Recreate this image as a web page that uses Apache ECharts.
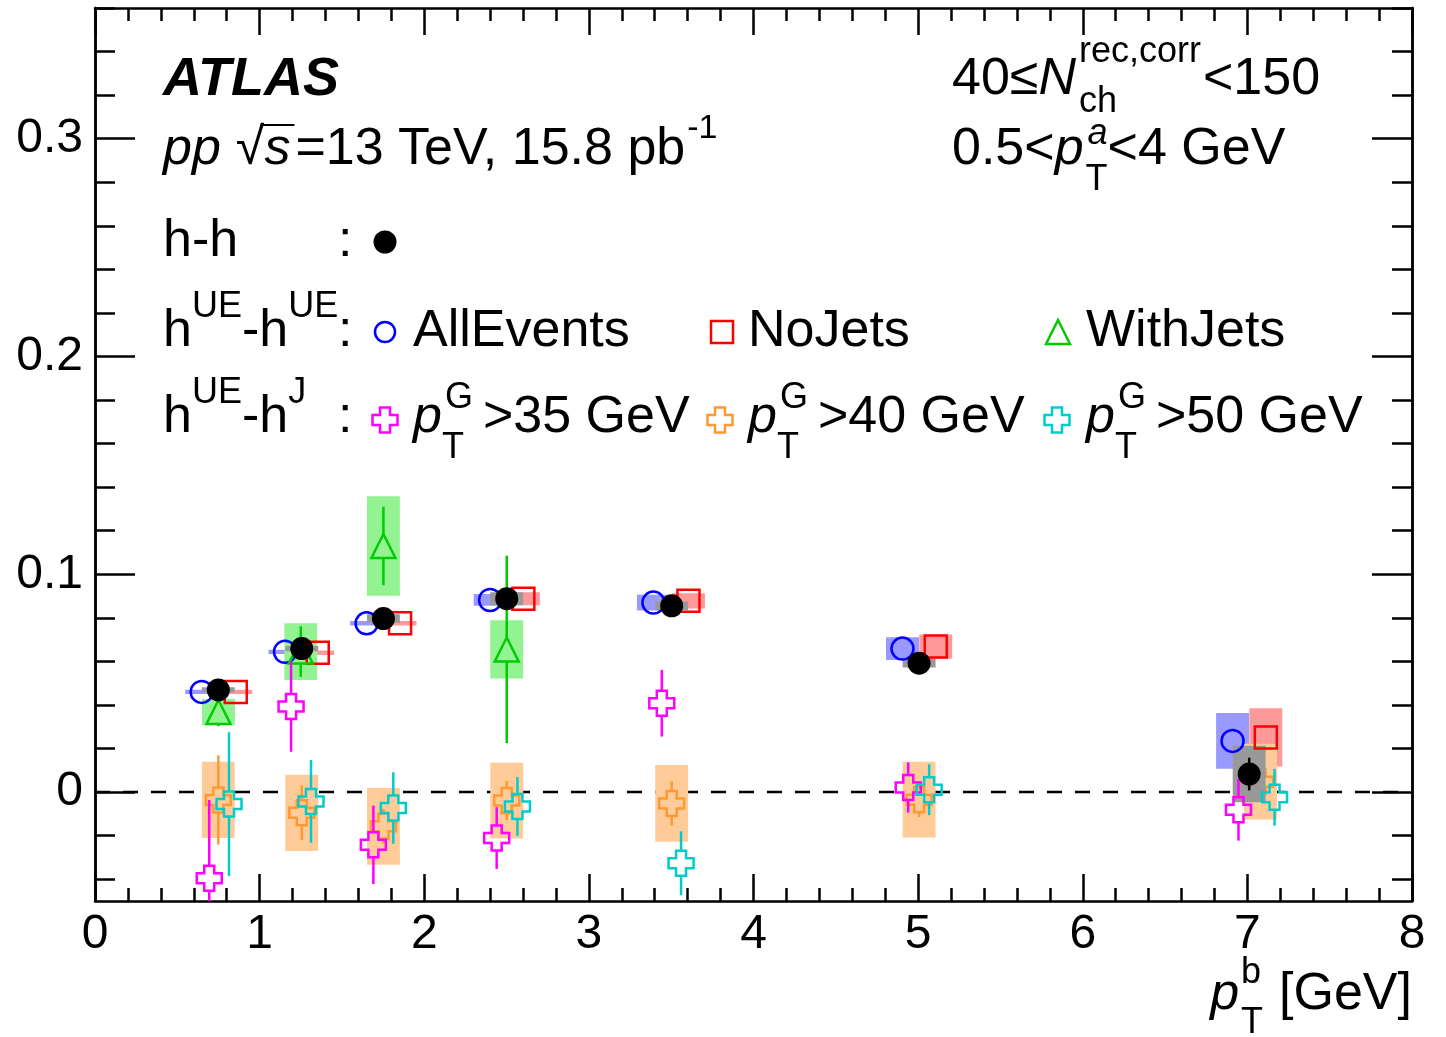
<!DOCTYPE html>
<html><head><meta charset="utf-8">
<script src="https://cdn.jsdelivr.net/npm/echarts@6/dist/echarts.min.js"></script>
<style>html,body{margin:0;padding:0;background:#fff}#c{width:1446px;height:1037px}</style>
</head><body><div id="c"></div>
<script>
// ---------------- DATA ----------------
// h-h (black)
const hhX    = [0.749, 1.256, 1.752, 2.501, 3.503, 5.006, 7.011];
const hhY    = [0.0469, 0.0659, 0.0797, 0.0888, 0.0855, 0.0592, 0.0083];
const hhStat = [0.001, 0.0015, 0.0015, 0.002, 0.002, 0.002, 0.0075];
const hhSys  = [0.0012, 0.0012, 0.002, 0.003, 0.002, 0.002, 0.013];
// hUE-hUE AllEvents (blue)
const allX    = [0.648, 1.154, 1.650, 2.400, 3.392, 4.905, 6.910];
const allY    = [0.0460, 0.0644, 0.0775, 0.0882, 0.0870, 0.0659, 0.0235];
const allStat = [0.001, 0.001, 0.001, 0.0015, 0.0015, 0.002, 0.004];
const allSys  = [0.001, 0.001, 0.001, 0.0027, 0.0036, 0.0052, 0.0128];
// hUE-hUE NoJets (red)
const noX    = [0.855, 1.353, 1.853, 2.602, 3.605, 5.107, 7.112];
const noY    = [0.0460, 0.0640, 0.0775, 0.0888, 0.0878, 0.0668, 0.0251];
const noStat = [0.001, 0.001, 0.001, 0.0015, 0.0015, 0.002, 0.004];
const noSys  = [0.001, 0.001, 0.001, 0.003, 0.0035, 0.0056, 0.0134];
// hUE-hUE WithJets (green)
const withX    = [0.750, 1.250, 1.752, 2.501];
const withY    = [0.0368, 0.0645, 0.1130, 0.0655];
const withStat = [0.0065, 0.0116, 0.018, 0.043];
const withSys  = [0.006, 0.013, 0.0228, 0.0134];
// hUE-hJ pT^G > 35 GeV (magenta)
const g35X    = [0.694, 1.191, 1.691, 2.440, 3.443, 4.940, 6.946];
const g35Y    = [-0.0396, 0.0393, -0.0242, -0.0211, 0.0408, 0.0021, -0.0081];
const g35Stat = [0.036, 0.0208, 0.018, 0.0142, 0.0153, 0.0115, 0.0142];
// hUE-hJ pT^G > 40 GeV (orange)
const g40X    = [0.749, 1.256, 1.752, 2.501, 3.503, 5.006, 7.080];
const g40Y    = [-0.0036, -0.0095, -0.0157, -0.0039, -0.0052, -0.0035, 0.0048];
const g40Stat = [0.0205, 0.0126, 0.008, 0.009, 0.0102, 0.008, 0.008];
const g40Sys  = [0.0175, 0.0175, 0.0176, 0.0174, 0.0176, 0.0174, 0.0174];
// hUE-hJ pT^G > 50 GeV (cyan)
const g50X    = [0.814, 1.312, 1.812, 2.566, 3.560, 5.067, 7.165];
const g50Y    = [-0.0055, -0.0043, -0.0073, -0.0066, -0.0327, 0.0011, -0.0024];
const g50Stat = [0.033, 0.019, 0.0164, 0.0135, 0.0147, 0.0117, 0.013];

// axes / ticks
const X_MIN = 0, X_MAX = 8, X_STEP = 1;
const Y_MIN = -0.05, Y_MAX = 0.36;
const yTicks = [0, 0.1, 0.2, 0.3];
const yTickLabels = ['0', '0.1', '0.2', '0.3'];
const yMinorStep = 0.02;
const zeroLevel = 0;

// ---------------- STYLE ----------------
const FF = '"Liberation Sans", Arial, Helvetica, sans-serif';
const LW = 2.5;
const BOX_HW = 0.1;
const C = {
  black:'#000000', blue:'#0000ff', red:'#ff0000', green:'#00cc00',
  mag:'#ff00ff', orange:'#ff9933', cyan:'#00cccc',
  boxBlue:'#9999ff', boxRed:'#ff9999', boxGreen:'#93f393', boxOrange:'#ffcc99', boxGray:'#999999'
};
const CROSS = 'path://M3,0L7,0L7,3L10,3L10,7L7,7L7,10L3,10L3,7L0,7L0,3L3,3Z';
const SZ = {dot:23, circ:22, sq:22, tri:24, cross:25};

const yMinor = [];
for (let k = Math.ceil(Y_MIN / yMinorStep); k * yMinorStep <= Y_MAX + 1e-9; k++) {
  const v = +(k * yMinorStep).toFixed(4);
  if (Math.abs(v * 10 - Math.round(v * 10)) > 1e-6) yMinor.push(v);
}

function boxSeries(xs, ys, ss, color, z) {
  return {type:'custom', z, silent:true, animation:false, encode:{x:0, y:1},
    data: xs.map((x, i) => [x, ys[i], ss[i]]),
    renderItem: (p, api) => {
      const x = api.value(0), y = api.value(1), s = api.value(2);
      const a = api.coord([x - BOX_HW, Math.min(y + s, Y_MAX)]);
      const b = api.coord([x + BOX_HW, Math.max(y - s, Y_MIN)]);
      return {type:'rect', shape:{x:a[0], y:a[1], width:b[0]-a[0], height:b[1]-a[1]}, style:{fill:color}};
    }};
}
function errSeries(xs, ys, es, color, half, z) {
  return {type:'custom', z, silent:true, animation:false, encode:{x:0, y:1},
    data: xs.map((x, i) => [x, ys[i], es[i]]),
    renderItem: (p, api) => {
      const x = api.value(0), y = api.value(1), e = api.value(2);
      const c = api.coord([x, y]);
      const t = api.coord([x, Math.min(y + e, Y_MAX)]);
      const b = api.coord([x, Math.max(y - e, Y_MIN)]);
      const ch = [];
      if (t[1] < c[1] - half) ch.push({type:'line', shape:{x1:c[0], y1:t[1], x2:c[0], y2:c[1]-half}, style:{stroke:color, lineWidth:LW}});
      if (b[1] > c[1] + half) ch.push({type:'line', shape:{x1:c[0], y1:c[1]+half, x2:c[0], y2:b[1]}, style:{stroke:color, lineWidth:LW}});
      return {type:'group', children:ch};
    }};
}
function markSeries(xs, ys, symbol, size, color, filled, z) {
  return {type:'scatter', z, silent:true, animation:false, symbol, symbolSize:size, symbolKeepAspect:true,
    data: xs.map((x, i) => [x, ys[i]]),
    itemStyle:{color: filled ? color : 'rgba(0,0,0,0)', borderColor: color, borderWidth: filled ? 0 : LW, opacity:1},
    emphasis:{disabled:true}};
}

// ---------------- TEXT LAYOUT ----------------
const mctx = document.createElement('canvas').getContext('2d');
function meas(t, s, i, b) { mctx.font = (i ? 'italic ' : '') + (b ? 'bold ' : '') + s + 'px ' + FF; return mctx.measureText(t).width; }
function T(x, y, t, s, i, b) {
  return {type:'text', x, y, silent:true, z:100,
    style:{text:t, fontSize:s, fontFamily:FF, fontStyle:i ? 'italic' : 'normal', fontWeight:b ? 'bold' : 'normal',
      fill:'#000', align:'left', verticalAlign:'middle'}};
}
const S = 52, SS = 36;
function run(x0, y, parts, out) {
  let x = x0;
  for (const p of parts) {
    if (p.gap) { x += p.gap; continue; }
    if (p.sup != null || p.sub != null) {
      const s = p.ss || SS; let w = 0;
      if (p.sup != null) { out.push(T(x + (p.sx || 0), y + (p.sdy != null ? p.sdy : -22), p.sup, s, p.si)); w = Math.max(w, (p.sx || 0) + meas(p.sup, s, p.si)); }
      if (p.sub != null) { out.push(T(x + (p.bx || 0), y + (p.bdy != null ? p.bdy : 28), p.sub, s, false)); w = Math.max(w, (p.bx || 0) + meas(p.sub, s, false)); }
      x += w + (p.after || 0); continue;
    }
    const s = p.s || S;
    out.push(T(x, y, p.t, s, p.i, p.b));
    const w = meas(p.t, s, p.i, p.b);
    if (p.over) out.push({type:'line', silent:true, z:100, shape:{x1:x - 4, y1:y - p.over, x2:x + w + 4, y2:y - p.over}, style:{stroke:'#000', lineWidth:2.2}});
    x += w + (p.after || 0);
  }
  return x;
}
const G = [];
run(163, 80, [{t:'ATLAS', s:54, i:true, b:true}], G);
run(163, 150, [{t:'pp', i:true}, {gap:15}, {t:'\u221A'}, {t:'s', i:true, over:25, after:5}, {t:'=13 TeV, 15.8 pb'}, {sup:'-1', ss:34, sdy:-21, sx:2}], G);
run(163, 242, [{t:'h-h'}], G);
run(163, 332, [{t:'h'}, {sup:'UE', sdy:-25}, {t:'-h'}, {sup:'UE', sdy:-25}], G);
run(163, 418, [{t:'h'}, {sup:'UE', sdy:-25}, {t:'-h'}, {sup:'J', sdy:-25}], G);
G.push(T(338, 242, ':', S), T(338, 332, ':', S), T(338, 418, ':', S));
run(413, 332, [{t:'AllEvents'}], G);
run(748, 332, [{t:'NoJets'}], G);
run(1086, 332, [{t:'WithJets'}], G);
const ptG = (thr) => [{t:'p', i:true}, {sup:'G', sdy:-20, sx:3, sub:'T', bdy:30, after:10}, {t:'>' + thr + ' GeV'}];
run(413, 418, ptG(35), G);
run(748, 418, ptG(40), G);
run(1086, 418, ptG(50), G);
run(952, 80, [{t:'40\u2264'}, {t:'N', i:true}, {sup:'rec,corr', sdy:-28, sx:3, sub:'ch', bdy:22, bx:3, after:2}, {t:'<150'}], G);
run(952, 150, [{t:'0.5<'}, {t:'p', i:true}, {sup:'a', si:true, sdy:-16, sx:4, sub:'T', bdy:30, bx:2}, {t:'<4 GeV'}], G);
const xTitle = [{t:'p', i:true}, {sup:'b', sdy:-22, sx:2, sub:'T', bdy:28, bx:2, after:16}, {t:'[GeV]'}];
const xtw = run(0, 0, xTitle, []);
run(1412 - xtw, 995, xTitle, G);

// legend symbols
function crossPts(cx, cy, s) {
  const a = s / 2, b = s * 0.2;
  return [[cx-b,cy-a],[cx+b,cy-a],[cx+b,cy-b],[cx+a,cy-b],[cx+a,cy+b],[cx+b,cy+b],[cx+b,cy+a],[cx-b,cy+a],[cx-b,cy+b],[cx-a,cy+b],[cx-a,cy-b],[cx-b,cy-b]];
}
G.push({type:'circle', silent:true, shape:{cx:385, cy:242, r:SZ.dot/2}, style:{fill:C.black}});
G.push({type:'circle', silent:true, shape:{cx:385, cy:332, r:SZ.circ/2 - 1}, style:{fill:'none', stroke:C.blue, lineWidth:LW}});
G.push({type:'rect', silent:true, shape:{x:722 - SZ.sq/2, y:332 - SZ.sq/2, width:SZ.sq, height:SZ.sq}, style:{fill:'none', stroke:C.red, lineWidth:LW}});
G.push({type:'polygon', silent:true, shape:{points:[[1058, 332 - SZ.tri/2], [1058 + SZ.tri/2, 332 + SZ.tri/2], [1058 - SZ.tri/2, 332 + SZ.tri/2]]}, style:{fill:'none', stroke:C.green, lineWidth:LW}});
G.push({type:'polygon', silent:true, shape:{points:crossPts(385, 420, SZ.cross)}, style:{fill:'none', stroke:C.mag, lineWidth:LW}});
G.push({type:'polygon', silent:true, shape:{points:crossPts(720, 420, SZ.cross)}, style:{fill:'none', stroke:C.orange, lineWidth:LW}});
G.push({type:'polygon', silent:true, shape:{points:crossPts(1057, 420, SZ.cross)}, style:{fill:'none', stroke:C.cyan, lineWidth:LW}});

// ---------------- AXES ----------------
const lineSt = {color:'#000', width:LW};
function xAx(pos, labels) {
  return {type:'value', min:X_MIN, max:X_MAX, interval:X_STEP, position:pos,
    axisLine:{show:true, onZero:false, lineStyle:lineSt},
    axisTick:{show:true, inside:true, length:27, lineStyle:lineSt},
    minorTick:{show:true, splitNumber:5, length:13, lineStyle:lineSt},
    axisLabel:{show:labels, fontSize:48, fontFamily:FF, color:'#000', margin:10},
    splitLine:{show:false}, minorSplitLine:{show:false}};
}
function yAx(pos, ticks, len, labels) {
  return {type:'value', min:Y_MIN, max:Y_MAX, position:pos,
    axisLine:{show:true, onZero:false, lineStyle:lineSt},
    axisTick:{show:true, inside:true, length:len, customValues:ticks, lineStyle:lineSt},
    axisLabel:{show:labels, customValues:yTicks, fontSize:48, fontFamily:FF, color:'#000', margin:12,
      formatter:(v) => { const k = yTicks.findIndex(t => Math.abs(t - v) < 1e-9); return k >= 0 ? yTickLabels[k] : ''; }},
    splitLine:{show:false}, minorTick:{show:false}};
}

const option = {
  animation:false,
  backgroundColor:'#fff',
  grid:{left:95, right:34, top:8, bottom:136, containLabel:false},
  xAxis:[xAx('bottom', true), xAx('top', false)],
  yAxis:[yAx('left', yTicks, 40, true), yAx('left', yMinor, 20, false), yAx('right', yTicks, 40, false), yAx('right', yMinor, 20, false)],
  graphic:G,
  series:[
    {type:'line', z:1, silent:true, symbol:'none', animation:false,
      data:[[X_MIN, zeroLevel], [X_MAX, zeroLevel]],
      lineStyle:{color:'#000', width:LW, type:[15, 13]}},
    boxSeries(allX, allY, allSys, C.boxBlue, 2),
    boxSeries(noX, noY, noSys, C.boxRed, 3),
    boxSeries(withX, withY, withSys, C.boxGreen, 4),
    boxSeries(g40X, g40Y, g40Sys, C.boxOrange, 5),
    errSeries(g40X, g40Y, g40Stat, C.orange, SZ.cross/2, 6),
    markSeries(g40X, g40Y, CROSS, SZ.cross, C.orange, false, 7),
    boxSeries(hhX, hhY, hhSys, C.boxGray, 8),
    errSeries(allX, allY, allStat, C.blue, SZ.circ/2, 9),
    markSeries(allX, allY, 'circle', SZ.circ, C.blue, false, 10),
    errSeries(noX, noY, noStat, C.red, SZ.sq/2, 11),
    markSeries(noX, noY, 'rect', SZ.sq, C.red, false, 12),
    errSeries(withX, withY, withStat, C.green, SZ.tri/2, 13),
    markSeries(withX, withY, 'triangle', SZ.tri, C.green, false, 14),
    errSeries(g35X, g35Y, g35Stat, C.mag, SZ.cross/2, 15),
    markSeries(g35X, g35Y, CROSS, SZ.cross, C.mag, false, 16),
    errSeries(g50X, g50Y, g50Stat, C.cyan, SZ.cross/2, 17),
    markSeries(g50X, g50Y, CROSS, SZ.cross, C.cyan, false, 18),
    errSeries(hhX, hhY, hhStat, C.black, SZ.dot/2 - 2, 19),
    markSeries(hhX, hhY, 'circle', SZ.dot, C.black, true, 20)
  ]
};
const chart = echarts.init(document.getElementById('c'), null, {renderer:'canvas'});
chart.setOption(option);
</script>
</body></html>
